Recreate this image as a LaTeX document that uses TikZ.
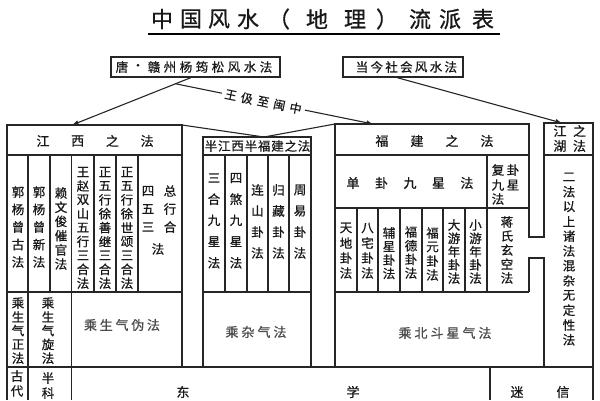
\documentclass[tikz,border=0pt]{standalone}
\usepackage{fontspec}
\newfontfamily\cjk{Noto Sans CJK SC}[FakeBold=0.7]
\usetikzlibrary{arrows.meta,calc}
\tikzset{
  ct/.style={font=\cjk\fontsize{12.5}{12.5}\selectfont, inner sep=0pt, text=black!90},
  ctbig/.style={ct, font=\cjk\fontsize{13}{13}\selectfont},
  ctgray/.style={ct, font=\cjk\fontsize{13}{13}\selectfont, text=black!70},
  grid/.style={line width=1.2pt, draw=black!85},
  topbox/.style={draw=black!85, line width=1.2pt, minimum height=20pt, inner sep=0pt},
  conn/.style={line width=1.1pt, draw=black!85},
  tip/.style={-{Latex[length=6.5pt,width=5pt]}},
}
\newcommand\vcol[6][]{\foreach \zi [count=\i] in {#6} \node[ct,#1] (#2-\i) at (#3,{#4+(\i-1)*#5}) {\zi};}
\newcommand\hrow[6][]{\foreach \zi [count=\i] in {#6} \node[ct,#1] (#2-\i) at ({#3+(\i-1)*#5},#4) {\zi};}
\begin{document}
\begin{tikzpicture}[x=1pt,y=-1pt]
\clip (0,0) rectangle (600,400);
\fill[white] (0,0) rectangle (600,400);
% title
\foreach \x/\zi [count=\i] in {162/中,191/国,219/风,248/水,279/（,317/地,355/理,387/）,420/流,450/派,483/表}
  \node[ct,font=\cjk\fontsize{22}{22}\selectfont] (t-\i) at (\x,19) {\zi};
\draw[line width=1.4pt] (148,34) -- (500,34);
% top boxes
\node[topbox, minimum width=169pt] (tang) at (195.5,67) {};
\hrow{tg}{122}{67}{16}{唐,·,赣,州,杨,筠,松,风,水,法}
\node[topbox, minimum width=120pt] (dj) at (403,67) {};
\hrow{djt}{362}{67}{14.8}{当,今,社,会,风,水,法}
% ---- grid: Jiangxi
\draw[grid] (7,400) -- (7,125) -- (182,125) -- (182,367);
\draw[grid] (7,155) -- (182,155);
\draw[grid] (7,292) -- (182,292);
\draw[grid] (28,155) -- (28,400);
\draw[grid] (71.5,155) -- (71.5,400);
\foreach \x in {50,94,116,138} \draw[grid] (\x,155) -- (\x,292);
% ---- middle
\draw[grid] (203,367) -- (203,137) -- (311,137) -- (311,367);
\draw[grid] (203,155) -- (311,155);
\draw[grid] (203,292) -- (311,292);
\foreach \x in {225,247,268,289} \draw[grid] (\x,155) -- (\x,292);
% ---- Fujian and right column
\draw[grid] (335,367) -- (335,124) -- (529,124) -- (529,237) -- (544,237) -- (544,123) -- (593,123) -- (593,400);
\draw[grid] (335,155) -- (529,155);
\draw[grid] (544,155) -- (593,155);
\draw[grid] (335,208) -- (529,208);
\draw[grid] (487,155) -- (487,292);
\foreach \x in {357,378,400,422,443,465} \draw[grid] (\x,208) -- (\x,292);
\draw[grid] (529,292) -- (529,258) -- (544,258) -- (544,367);
\draw[grid] (335,292) -- (529,292);
% ---- bottom
\draw[grid] (7,367) -- (593,367);
\draw[grid] (490,367) -- (490,400);
% ---- connectors
\coordinate (jxTR) at (182,125);
\coordinate (midT) at (264,137);
\coordinate (fjTL) at (335,124);
\draw[conn] (jxTR) -- (midT) -- (fjTL);
\coordinate (jxT) at (72,125);
\coordinate (fjT) at (373,124);
\coordinate (jhT) at (562,123);
\coordinate (tangS) at ([xshift=-4.5pt]tang.south);
\draw[conn,tip] (tangS) -- (jxT);
\coordinate (br) at ($(tangS)!0.13!(jxT)$);
\coordinate (wjL) at ($(br)!0.235!(fjT)$);
\coordinate (wjR) at ($(br)!0.655!(fjT)$);
\draw[conn] (br) -- (wjL);
\draw[conn,tip] (wjR) -- (fjT);
\foreach \zi/\t [count=\i] in {王/0.28,伋/0.362,至/0.444,闽/0.526,中/0.608}
  \node[ct, font=\cjk\fontsize{12}{12}\selectfont, rotate=-11.7] (wj-\i) at ($(br)!\t!(fjT)$) {\zi};
\draw[conn,tip] ([xshift=-6pt]dj.south) -- (jhT);
% ---- Jiangxi texts
\hrow[ctbig]{jxh}{43}{141}{34.7}{江,西,之,法}
\vcol{jx1}{18}{192}{17.5}{郭,杨,曾,古,法}
\vcol{jx2}{39}{192}{17.5}{郭,杨,曾,新,法}
\vcol{jx3}{61}{193}{14.2}{赖,文,俊,催,官,法}
\vcol{jx4}{83}{172}{13.9}{王,赵,双,山,五,行,三,合,法}
\vcol{jx5}{105}{172}{13.9}{正,五,行,徐,善,继,三,合,法}
\vcol{jx6}{127}{172}{13.9}{正,五,行,徐,世,颂,三,合,法}
\vcol{jx7}{148}{191}{18}{四,五,三}
\vcol{jx8}{170}{191}{18}{总,行,合}
\node[ct] (jx9) at (158,249) {法};
\vcol{b1}{18}{303}{13.8}{乘,生,气,正,法}
\vcol{b2}{48}{303}{13.8}{乘,生,气,旋,法}
\hrow[ctgray]{b3}{90.5}{325}{15.75}{乘,生,气,伪,法}
% ---- middle texts
\hrow{mh}{211}{146}{13.3}{半,江,西,半,福,建,之,法}
\vcol{m1}{214}{178}{21.2}{三,合,九,星,法}
\vcol{m2}{236}{178}{21.2}{四,煞,九,星,法}
\vcol{m3}{257.5}{190}{21}{连,山,卦,法}
\vcol{m4}{278.5}{190}{21}{归,藏,卦,法}
\vcol{m5}{300}{190}{21}{周,易,卦,法}
\hrow[ctgray]{m6}{232}{332}{16}{乘,杂,气,法}
% ---- Fujian texts
\hrow[ctbig]{fh}{382}{141}{35}{福,建,之,法}
\hrow[ctbig]{fd}{353}{183}{28.5}{单,卦,九,星,法}
\hrow{fs1}{498}{170}{15}{复,卦}
\hrow{fs2}{498}{185}{15}{九,星}
\node[ct] (fs3) at (498,199) {法};
\vcol{f1}{346}{228}{15}{天,地,卦,法}
\vcol{f2}{367.5}{228}{15}{八,宅,卦,法}
\vcol{f3}{389}{233}{13.5}{辅,星,卦,法}
\vcol{f4}{411}{232}{13.7}{福,德,卦,法}
\vcol{f5}{432.5}{233}{14}{福,元,卦,法}
\vcol{f6}{454}{225}{13.3}{大,游,年,卦,法}
\vcol{f7}{475.5}{225}{13.3}{小,游,年,卦,法}
\vcol{f8}{507}{222}{14}{蒋,氏,玄,空,法}
\hrow[ctgray]{f9}{405}{333}{16}{乘,北,斗,星,气,法}
% ---- right column
\hrow[ctbig]{jh1}{560}{131}{19.5}{江,之}
\hrow[ctbig]{jh2}{560}{146}{19.5}{湖,法}
\vcol{r1}{569}{177}{14.8}{二,法,以,上,诸,法,混,杂,无,定,性,法}
% ---- bottom row
\vcol{g1}{17}{376}{15}{古,代}
\vcol{g2}{48}{378}{15}{半,科}
\node[ctbig] (g3) at (183,392) {东};
\node[ctbig] (g4) at (353,392) {学};
\node[ctbig] (g5) at (517,392) {迷};
\node[ctbig] (g6) at (563,392) {信};
\end{tikzpicture}
\end{document}
